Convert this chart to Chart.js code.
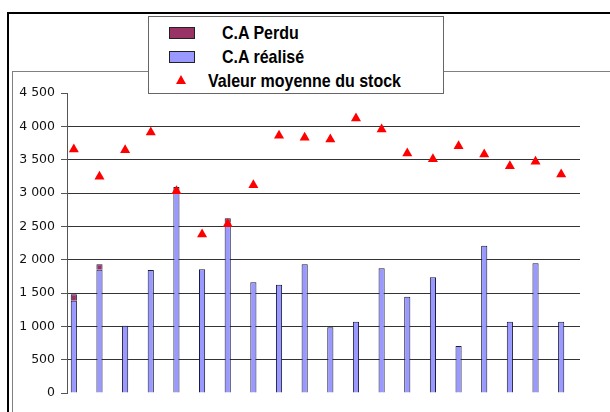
<!DOCTYPE html>
<html>
<head>
<meta charset="utf-8">
<script src="https://cdn.jsdelivr.net/npm/chart.js@4"></script>
<style>
    html, body {
        margin: 0;
        padding: 0;
        background: #ffffff;
    }
    #wrap {
        position: relative;
        width: 610px;
        height: 412px;
        overflow: hidden;
        background: #ffffff;
    }
    /* outer frame (black) and inner plot frame (gray) */
    .frame-outer {
        position: absolute;
        left: 7px;
        top: 12px;
        width: 620px;
        height: 420px;
        border-top: 2px solid #000;
        border-left: 2px solid #000;
    }
    .frame-inner {
        position: absolute;
        left: 12px;
        top: 71px;
        width: 620px;
        height: 420px;
        border-top: 1px solid #808080;
        border-left: 1px solid #808080;
    }
    #chart {
        position: absolute;
        left: 0;
        top: 0;
    }
    #legend {
        position: absolute;
        left: 148px;
        top: 16px;
        width: 294px;
        height: 76px;
        background: #fff;
        border: 1.5px solid #666;
        font-family: "Liberation Sans", Arial, sans-serif;
        font-weight: bold;
        font-size: 16px;
        color: #000;
    }
    .item {
        position: absolute;
        height: 20px;
        line-height: 20px;
        white-space: nowrap;
    }
    .item span.txt {
        display: inline-block;
        transform: scaleY(1.2);
        transform-origin: 0 60%;
    }
    .swatch {
        position: absolute;
        width: 24px;
        height: 10px;
        border: 1px solid #222;
    }
    .tri {
        position: absolute;
        width: 0;
        height: 0;
        border-left: 5px solid transparent;
        border-right: 5px solid transparent;
        border-bottom: 9px solid #ff0000;
    }
</style>
</head>
<body>
<div id="wrap">
    <div class="frame-outer"></div>
    <div class="frame-inner"></div>
    <canvas id="chart" width="610" height="412"></canvas>
    <div id="legend"></div>
</div>
<script>
// chart values
const categories = ["1", "2", "3", "4", "5", "6", "7", "8", "9", "10",
                    "11", "12", "13", "14", "15", "16", "17", "18", "19", "20"];
const caRealise = [1385, 1850, 1010, 1845, 3020, 1855, 2560, 1660, 1625, 1930,
                   985, 1070, 1870, 1445, 1735, 705, 2210, 1070, 1945, 1070];
const caPerdu = [95, 80, 0, 0, 70, 0, 60, 0, 0, 0,
                 0, 0, 0, 0, 0, 0, 0, 0, 0, 0];
const stockMoyen = [3655, 3245, 3645, 3910, 3030, 2380, 2535, 3120, 3860, 3830,
                    3805, 4120, 3955, 3595, 3510, 3705, 3580, 3405, 3470, 3280];
const yTicks = [0, 500, 1000, 1500, 2000, 2500, 3000, 3500, 4000, 4500];

const labelPerdu = "C.A Perdu";
const labelRealise = "C.A réalisé";
const labelStock = "Valeur moyenne du stock";

// helpers
function formatThousands(v) {
    return String(v).replace(/\B(?=(\d{3})+(?!\d))/g, " ");
}

// build the html legend (matches the boxed legend of the original)
function buildLegend() {
    const legend = document.getElementById("legend");
    const rows = [
        { kind: "box", color: "#993366", text: labelPerdu, top: 6, textLeft: 73 },
        { kind: "box", color: "#9999ff", text: labelRealise, top: 30, textLeft: 73 },
        { kind: "tri", color: "#ff0000", text: labelStock, top: 54, textLeft: 59 },
    ];
    rows.forEach((r) => {
        if (r.kind == "box") {
            const sw = document.createElement("div");
            sw.className = "swatch";
            sw.style.left = "20px";
            sw.style.top = (r.top + 4) + "px";
            sw.style.background = r.color;
            legend.appendChild(sw);
        } else {
            const tri = document.createElement("div");
            tri.className = "tri";
            tri.style.left = "27px";
            tri.style.top = (r.top + 4) + "px";
            legend.appendChild(tri);
        }
        const item = document.createElement("div");
        item.className = "item";
        item.style.left = r.textLeft + "px";
        item.style.top = r.top + "px";
        const t = document.createElement("span");
        t.className = "txt";
        t.textContent = r.text;
        item.appendChild(t);
        legend.appendChild(item);
    });
}
buildLegend();

// in the original the category slots sit a few pixels left of the value grid,
// so nudge the (hidden) category axis after layout
const shiftCategories = {
    id: "shiftCategories",
    afterLayout: (chart) => {
        const x = chart.scales.x;
        x.left -= 6;
        x.right -= 6;
        x.configure();
    }
};

const ctx = document.getElementById("chart");
const chart = new Chart(ctx, {
    data: {
        labels: categories,
        datasets: [
            {
                type: "line",
                label: labelStock,
                data: stockMoyen,
                showLine: false,
                pointStyle: "triangle",
                pointRadius: 5.8,
                pointHoverRadius: 5.8,
                pointBackgroundColor: "#ff0000",
                pointBorderColor: "#ff0000",
                pointBorderWidth: 0,
                order: 0,
                stack: "stock",
            },
            {
                type: "bar",
                label: labelRealise,
                data: caRealise,
                backgroundColor: "#9999ff",
                borderColor: "#1c1c3c",
                borderWidth: 1,
                barPercentage: 0.24,
                categoryPercentage: 1,
                order: 1,
                stack: "ca",
            },
            {
                type: "bar",
                label: labelPerdu,
                data: caPerdu,
                backgroundColor: "#993366",
                borderColor: "#1c1c3c",
                borderWidth: 1,
                barPercentage: 0.24,
                categoryPercentage: 1,
                order: 1,
                stack: "ca",
            },
        ],
    },
    options: {
        responsive: false,
        animation: false,
        layout: {
            padding: { top: 93, right: 30, bottom: 19, left: 0 },
        },
        plugins: {
            legend: { display: false },
            tooltip: { enabled: false },
        },
        scales: {
            x: {
                stacked: true,
                display: false,
            },
            y: {
                stacked: true,
                min: 0,
                max: 4500,
                afterFit: (scale) => {
                    scale.width = 67;
                },
                afterBuildTicks: (scale) => {
                    scale.ticks = yTicks.map((v) => ({ value: v }));
                },
                ticks: {
                    color: "#111",
                    padding: 6,
                    font: { family: "DejaVu Sans", size: 12.5 },
                    callback: (v) => formatThousands(v),
                },
                border: {
                    display: true,
                    color: "#555",
                    width: 1,
                },
                grid: {
                    drawTicks: true,
                    tickLength: 6,
                    tickColor: "#555",
                    lineWidth: 1,
                    color: (c) => {
                        const v = c.tick ? c.tick.value : 0;
                        if (v == 0 || v == 4500) return "rgba(0,0,0,0)";
                        return "#333";
                    },
                },
            },
        },
    },
    plugins: [shiftCategories],
});
</script>
</body>
</html>
